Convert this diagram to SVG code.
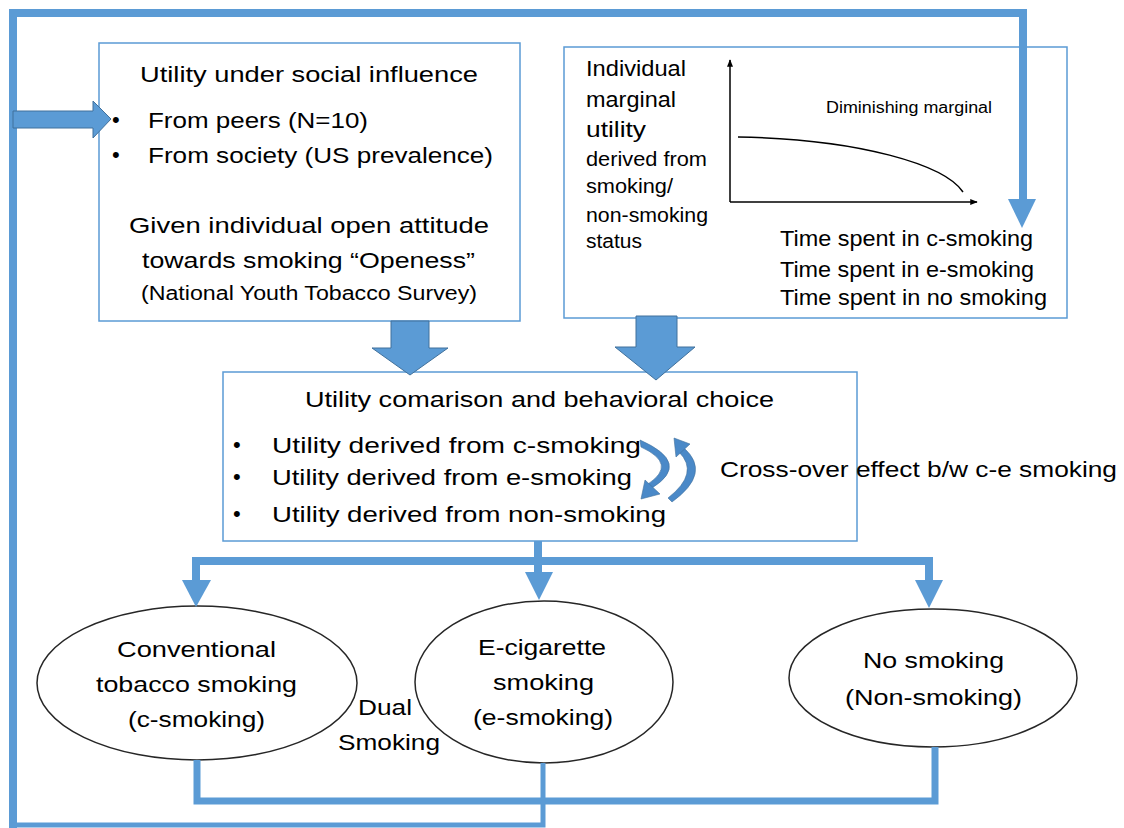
<svg xmlns="http://www.w3.org/2000/svg" width="1124" height="828" viewBox="0 0 1124 828">
<style>
text{font-family:"Liberation Sans",Arial,sans-serif;fill:#000}
.t22{font-size:22px}
.t20{font-size:20px}
.t16{font-size:16px}
.box{fill:#fff;stroke:#5B9BD5;stroke-width:1.5}
.ell{fill:#fff;stroke:#262626;stroke-width:1.5}
.blk{fill:#5B9BD5;stroke:#41719C;stroke-width:1}
.wire{fill:none;stroke:#5B9BD5;stroke-linejoin:miter}
.head{fill:#5B9BD5}
.curv{fill:#4A89C8;stroke:#41719C;stroke-width:0.6}
.axis{fill:none;stroke:#000;stroke-width:1.5}
</style>
<defs>
<marker id="ah" viewBox="0 0 10 10" refX="9" refY="5" markerWidth="5" markerHeight="5" orient="auto" markerUnits="strokeWidth">
<path d="M0,1 L10,5 L0,9 Z" fill="#000"/>
</marker>
</defs>

<g id="box1">
<rect class="box" x="99" y="43" width="421" height="278"/>
<text class="t22" x="140" y="82" textLength="338" lengthAdjust="spacingAndGlyphs">Utility under social influence</text>
<text class="t22" x="112" y="127">•</text>
<text class="t22" x="148" y="128" textLength="220" lengthAdjust="spacingAndGlyphs">From peers (N=10)</text>
<text class="t22" x="112" y="162">•</text>
<text class="t22" x="148" y="163" textLength="345" lengthAdjust="spacingAndGlyphs">From society (US prevalence)</text>
<text class="t22" x="129" y="233" textLength="360" lengthAdjust="spacingAndGlyphs">Given individual open attitude</text>
<text class="t22" x="142" y="268" textLength="333" lengthAdjust="spacingAndGlyphs">towards smoking “Openess”</text>
<text class="t20" x="141" y="300" textLength="336" lengthAdjust="spacingAndGlyphs">(National Youth Tobacco Survey)</text>
</g>

<g id="box2">
<rect class="box" x="564" y="47" width="503" height="271"/>
<text class="t22" x="586" y="76" textLength="100" lengthAdjust="spacingAndGlyphs">Individual</text>
<text class="t22" x="586" y="107" textLength="90" lengthAdjust="spacingAndGlyphs">marginal</text>
<text class="t22" x="586" y="137" textLength="60" lengthAdjust="spacingAndGlyphs">utility</text>
<text class="t20" x="586" y="166" textLength="121" lengthAdjust="spacingAndGlyphs">derived from</text>
<text class="t20" x="586" y="193" textLength="87" lengthAdjust="spacingAndGlyphs">smoking/</text>
<text class="t20" x="586" y="222" textLength="122" lengthAdjust="spacingAndGlyphs">non-smoking</text>
<text class="t20" x="586" y="248" textLength="56" lengthAdjust="spacingAndGlyphs">status</text>
<path class="axis" d="M730,202 V60" marker-end="url(#ah)"/>
<path class="axis" d="M730,202 H977" marker-end="url(#ah)"/>
<path class="axis" d="M738,137 C860,139 945,165 963,192"/>
<text class="t16" x="826" y="113" textLength="166" lengthAdjust="spacingAndGlyphs">Diminishing marginal</text>
<text class="t22" x="780" y="246" textLength="253" lengthAdjust="spacingAndGlyphs">Time spent in c-smoking</text>
<text class="t22" x="780" y="277" textLength="254" lengthAdjust="spacingAndGlyphs">Time spent in e-smoking</text>
<text class="t22" x="780" y="305" textLength="267" lengthAdjust="spacingAndGlyphs">Time spent in no smoking</text>
</g>

<g id="box3">
<rect class="box" x="223" y="372" width="634" height="169"/>
<text class="t22" x="305" y="407" textLength="469" lengthAdjust="spacingAndGlyphs">Utility comarison and behavioral choice</text>
<text class="t22" x="233" y="452">•</text>
<text class="t22" x="272" y="453" textLength="369" lengthAdjust="spacingAndGlyphs">Utility derived from  c-smoking</text>
<text class="t22" x="233" y="484">•</text>
<text class="t22" x="272" y="485" textLength="360" lengthAdjust="spacingAndGlyphs">Utility derived from e-smoking</text>
<text class="t22" x="233" y="521">•</text>
<text class="t22" x="272" y="522" textLength="394" lengthAdjust="spacingAndGlyphs">Utility derived from non-smoking</text>
</g>

<g id="crossover">
<path class="curv" d="M640,440 Q692,463 652,488 L648,484 Q678,464 641,447 Z"/>
<polygon class="curv" points="641,499 660,494 645,480"/>
<path class="curv" d="M672,502 Q712,473 684,448 L679,452 Q700,473 668,498 Z"/>
<polygon class="curv" points="674,438 690,444 676,457"/>
<text class="t22" x="720" y="477" textLength="397" lengthAdjust="spacingAndGlyphs">Cross-over effect b/w c-e smoking</text>
</g>

<g id="c-smoking">
<ellipse class="ell" cx="197" cy="683" rx="160" ry="77"/>
<text class="t22" x="117" y="657" textLength="159" lengthAdjust="spacingAndGlyphs">Conventional</text>
<text class="t22" x="96" y="692" textLength="201" lengthAdjust="spacingAndGlyphs">tobacco smoking</text>
<text class="t22" x="128" y="727" textLength="137" lengthAdjust="spacingAndGlyphs">(c-smoking)</text>
</g>

<g id="e-smoking">
<ellipse class="ell" cx="544" cy="682" rx="129" ry="81"/>
<text class="t22" x="478" y="655" textLength="128" lengthAdjust="spacingAndGlyphs">E-cigarette</text>
<text class="t22" x="493" y="690" textLength="101" lengthAdjust="spacingAndGlyphs">smoking</text>
<text class="t22" x="473" y="725" textLength="140" lengthAdjust="spacingAndGlyphs">(e-smoking)</text>
</g>

<g id="no-smoking">
<ellipse class="ell" cx="933" cy="678" rx="144" ry="69"/>
<text class="t22" x="863" y="668" textLength="141" lengthAdjust="spacingAndGlyphs">No smoking</text>
<text class="t22" x="845" y="705" textLength="177" lengthAdjust="spacingAndGlyphs">(Non-smoking)</text>
</g>

<g id="dual">
<text class="t22" x="358" y="715" textLength="54" lengthAdjust="spacingAndGlyphs">Dual</text>
<text class="t22" x="338" y="750" textLength="102" lengthAdjust="spacingAndGlyphs">Smoking</text>
</g>

<g id="connectors">
<path class="wire" stroke-width="8" d="M13,828 V13 H1023 V200"/>
<polygon class="head" points="1008,199 1036,199 1022,228"/>
<path class="blk" d="M13,111 H93 V101 L111,119 L93,138 V128 H13 Z"/>
<path class="blk" d="M391,321 H429 V348 H448 L410,375 L372,348 H391 Z"/>
<path class="blk" d="M636,316 H677 V347 H695 L656,380 L615,347 H636 Z"/>
<path class="wire" stroke-width="8" d="M196,582 V561 H929 V582"/>
<path class="wire" stroke-width="8" d="M538,541 V574"/>
<polygon class="head" points="182,580 211,580 196,607"/>
<polygon class="head" points="525,572 553,572 539,600"/>
<polygon class="head" points="915,580 943,580 929,608"/>
<path class="wire" stroke-width="7" d="M197,760 V801 H935 V747"/>
<path class="wire" stroke-width="5" d="M543,763 V825 H11"/>
</g>
</svg>
